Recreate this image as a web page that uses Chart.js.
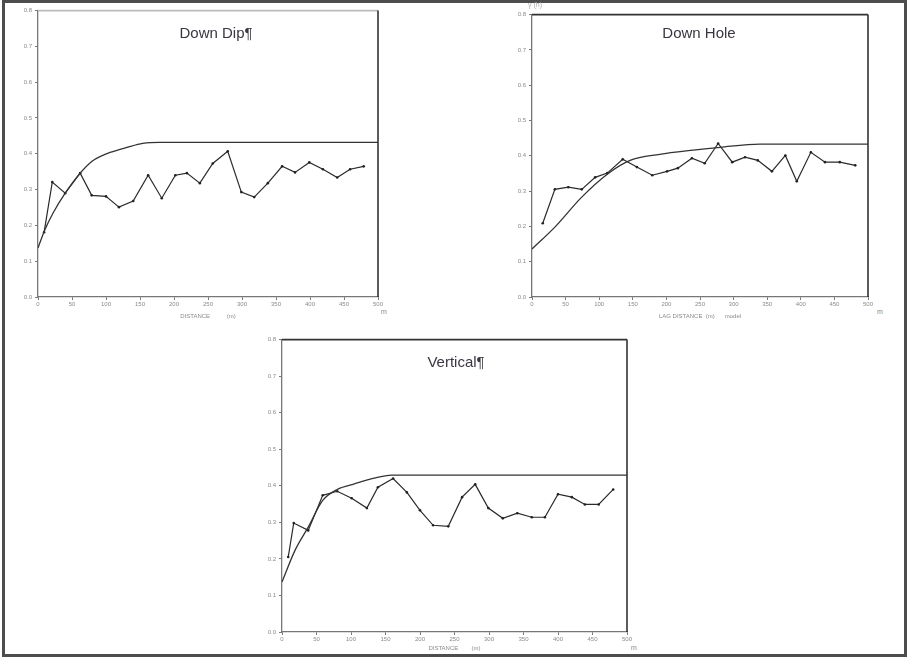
<!DOCTYPE html>
<html>
<head>
<meta charset="utf-8">
<script src="https://cdn.jsdelivr.net/npm/chart.js@4.4.1/dist/chart.umd.min.js"></script>
<style>
  html, body { margin:0; padding:0; background:#fff; width:908px; height:658px; overflow:hidden; }
  #frame { position:absolute; left:2px; top:0px; width:899px; height:651px; border:3px solid #4d4d4d; }
  canvas { position:absolute; }
  .ttl { position:absolute; font-family:"Liberation Sans", Arial, sans-serif; font-size:15px; color:#3a3540; white-space:nowrap; transform:translateX(-50%); }
  .tiny { position:absolute; font-family:"Liberation Sans", Arial, sans-serif; font-size:7px; color:#888; white-space:nowrap; }
</style>
</head>
<body>
<div id="frame"></div>
<canvas id="c1" width="380" height="316" style="left:6px;top:4px"></canvas>
<canvas id="c2" width="376" height="312" style="left:500px;top:8px"></canvas>
<canvas id="c3" width="385" height="319" style="left:250px;top:333px"></canvas>
<div class="ttl" style="left:216px;top:24px">Down Dip¶</div>
<div class="ttl" style="left:699px;top:24px">Down Hole</div>
<div class="ttl" style="left:456px;top:353px">Vertical¶</div>
<div class="tiny" style="left:381px;top:308px">m</div>
<div class="tiny" style="left:877px;top:308px">m</div>
<div class="tiny" style="left:631px;top:644px">m</div>
<div class="tiny" style="left:528px;top:1px;color:#aaa">γ (h)</div>
<script>
// ---- Data ----
const xTicksMax = 500;
const yTicksMax = 0.8;

// Down Dip
const dipLag   = [9, 21, 40, 62, 79, 100, 119, 140, 162, 182, 202, 219, 238, 257, 279, 299, 318, 338, 359, 378, 399, 419, 440, 459, 479];
const dipGamma = [0.181, 0.321, 0.290, 0.346, 0.284, 0.281, 0.251, 0.268, 0.340, 0.276, 0.340, 0.346, 0.318, 0.373, 0.407, 0.293, 0.279, 0.318, 0.365, 0.348, 0.376, 0.357, 0.334, 0.357, 0.365];
const dipModelLag   = [0, 10, 22, 40, 62, 80, 92, 106, 131, 154, 179, 500];
const dipModelGamma = [0.137, 0.187, 0.234, 0.290, 0.346, 0.380, 0.393, 0.404, 0.418, 0.429, 0.432, 0.432];

// Down Hole
const holeLag   = [16, 34, 54, 74, 94, 112, 135, 156, 179, 201, 217, 238, 257, 277, 298, 317, 336, 357, 377, 394, 415, 436, 458, 481];
const holeGamma = [0.209, 0.305, 0.311, 0.305, 0.339, 0.351, 0.390, 0.368, 0.345, 0.356, 0.365, 0.393, 0.379, 0.435, 0.382, 0.396, 0.387, 0.356, 0.401, 0.328, 0.410, 0.382, 0.382, 0.373];
const holeModelLag   = [0, 34, 74, 112, 146, 190, 240, 280, 339, 500];
const holeModelGamma = [0.136, 0.198, 0.283, 0.348, 0.387, 0.404, 0.416, 0.424, 0.433, 0.433];

// Vertical
const vertLag   = [9, 17, 38, 59, 80, 101, 123, 139, 161, 181, 200, 219, 241, 261, 280, 299, 320, 341, 362, 381, 400, 420, 439, 459, 480];
const vertGamma = [0.205, 0.298, 0.278, 0.374, 0.385, 0.366, 0.339, 0.396, 0.420, 0.382, 0.333, 0.292, 0.289, 0.369, 0.404, 0.339, 0.311, 0.325, 0.314, 0.314, 0.377, 0.369, 0.349, 0.349, 0.390];
const vertModelLag   = [0, 19, 38, 59, 80, 103, 132, 159, 500];
const vertModelGamma = [0.137, 0.224, 0.287, 0.360, 0.390, 0.404, 0.420, 0.429, 0.429];

const xTitles = ["DISTANCE          (m)", "LAG DISTANCE  (m)      model", "DISTANCE        (m)"];

function pts(xs, ys) { return xs.map((x, i) => ({ x: x, y: ys[i] })); }

const frameBox = {
  id: 'frameBox',
  afterDraw(chart, args, opts) {
    const a = chart.chartArea, ctx = chart.ctx;
    ctx.save();
    ctx.lineWidth = 1.6;
    ctx.strokeStyle = opts.topColor || '#333';
    ctx.beginPath(); ctx.moveTo(a.left, a.top); ctx.lineTo(a.right, a.top); ctx.stroke();
    ctx.strokeStyle = '#333';
    ctx.beginPath(); ctx.moveTo(a.right, a.top); ctx.lineTo(a.right, a.bottom); ctx.stroke();
    ctx.restore();
  }
};

function makeChart(id, lag, gamma, mLag, mGamma, xTitle, xH, topColor) {
  return new Chart(document.getElementById(id), {
    type: 'scatter',
    data: {
      datasets: [
        { data: pts(mLag, mGamma), showLine: true, borderColor: '#333', borderWidth: 1.3,
          pointRadius: 0, cubicInterpolationMode: 'monotone', fill: false },
        { data: pts(lag, gamma), showLine: true, borderColor: '#2a2a2a', borderWidth: 1.2,
          pointRadius: 1.3, pointBackgroundColor: '#222', pointBorderWidth: 0, tension: 0 }
      ]
    },
    options: {
      responsive: false, animation: false, devicePixelRatio: 1,
      layout: { padding: { left: 0, right: 8, top: 6, bottom: 0 } },
      plugins: { legend: { display: false }, tooltip: { enabled: false }, frameBox: { topColor: topColor } },
      scales: {
        x: {
          type: 'linear', min: 0, max: xTicksMax,
          ticks: { stepSize: 50, color: '#8a8a8a', font: { size: 6, family: 'Liberation Sans' }, padding: 1, maxRotation: 0 },
          grid: { drawOnChartArea: false, tickLength: 3, color: '#777' },
          border: { color: '#777', width: 1.3 },
          title: { display: true, text: xTitle, color: '#8a8a8a', font: { size: 6, family: 'Liberation Sans' }, padding: 0 },
          afterFit(s) { s.height = xH; }
        },
        y: {
          type: 'linear', min: 0, max: yTicksMax,
          ticks: { stepSize: 0.1, color: '#8a8a8a', font: { size: 6, family: 'Liberation Sans' }, padding: 3,
                   callback: v => v.toFixed(1) },
          grid: { drawOnChartArea: false, tickLength: 3, color: '#777' },
          border: { color: '#777', width: 1.3 },
          afterFit(s) { s.width = 32; }
        }
      }
    },
    plugins: [frameBox]
  });
}

makeChart('c1', dipLag, dipGamma, dipModelLag, dipModelGamma, xTitles[0], 23, '#bbb');
makeChart('c2', holeLag, holeGamma, holeModelLag, holeModelGamma, xTitles[1], 23, '#333');
makeChart('c3', vertLag, vertGamma, vertModelLag, vertModelGamma, xTitles[2], 20, '#333');
</script>
</body>
</html>
